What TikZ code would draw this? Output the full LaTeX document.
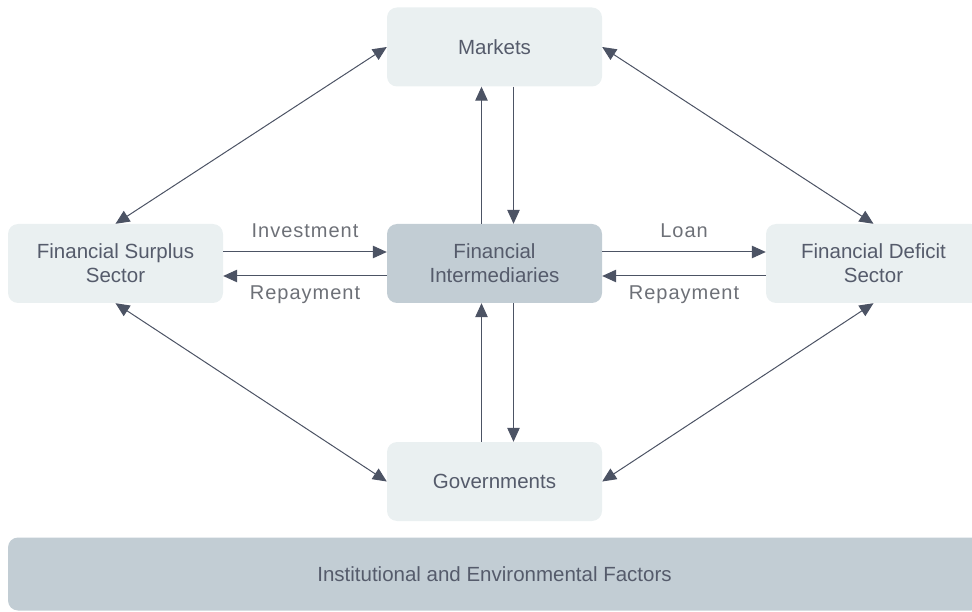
\documentclass[tikz,border=0pt]{standalone}
\usepackage{fontspec}
\setmainfont{Liberation Sans}
\newfontfamily\lblfont[LetterSpace=5]{Liberation Sans}
\usetikzlibrary{arrows.meta}

\definecolor{boxfill}{HTML}{EAF0F1}
\definecolor{midfill}{HTML}{C2CDD4}
\definecolor{boxtext}{HTML}{555B6B}
\definecolor{lbltext}{HTML}{6D7077}
\definecolor{arrcol}{HTML}{4C5364}

\begin{document}
\begin{tikzpicture}
  [x=1pt,y=-1pt,
   every node/.style={rounded corners=10pt,fill=boxfill,text=boxtext,align=center,
     minimum width=215pt,minimum height=79pt,font=\fontsize{20.5}{24}\selectfont},
   oneway/.style={draw=arrcol,line width=1pt,-{Triangle[length=14pt,width=12.5pt]}},
   twoway/.style={oneway,{Triangle[length=14pt,width=12.5pt]}-{Triangle[length=14pt,width=12.5pt]}},
   lbl/.style={fill=none,minimum width=0pt,minimum height=0pt,inner sep=0pt,
     text=lbltext,font=\fontsize{20}{24}\lblfont,anchor=base}]
  \useasboundingbox (0,0) rectangle (972,612);

  \node (mk) at (494.5,47) {Markets};
  \node (sur) at (115.5,263.5) {Financial Surplus\\Sector};
  \node[fill=midfill] (fi) at (494.5,263.5) {Financial\\Intermediaries};
  \node (def) at (873.5,263.5) {Financial Deficit\\Sector};
  \node (gov) at (494.5,481.5) {Governments};
  \node[fill=midfill,minimum width=973pt,minimum height=73pt] (inst) at (494.5,574)
    {Institutional and Environmental Factors};

  % corner links
  \foreach \from/\to in {mk.west/sur.north,mk.east/def.north,sur.south/gov.west,def.south/gov.east}
    \draw[twoway] (\from) -- (\to);

  % up and down through the middle
  \draw[oneway] ([xshift=-13pt]fi.north) -- ([xshift=-13pt]mk.south);
  \draw[oneway] ([xshift=19pt]mk.south) -- ([xshift=19pt]fi.north);
  \draw[oneway] ([xshift=-13pt]gov.north) -- ([xshift=-13pt]fi.south);
  \draw[oneway] ([xshift=19pt]fi.south) -- ([xshift=19pt]gov.north);

  % left and right flows
  \draw[oneway] ([yshift=11.5pt]sur.east) -- ([yshift=11.5pt]fi.west)
    node[lbl,midway,yshift=14pt] {Investment};
  \draw[oneway] ([yshift=-12.5pt]fi.west) -- ([yshift=-12.5pt]sur.east)
    node[lbl,midway,yshift=-24pt] {Repayment};
  \draw[oneway] ([yshift=11.5pt]fi.east) -- ([yshift=11.5pt]def.west)
    node[lbl,midway,yshift=14pt] {Loan};
  \draw[oneway] ([yshift=-12.5pt]def.west) -- ([yshift=-12.5pt]fi.east)
    node[lbl,midway,yshift=-24pt] {Repayment};
\end{tikzpicture}
\end{document}
